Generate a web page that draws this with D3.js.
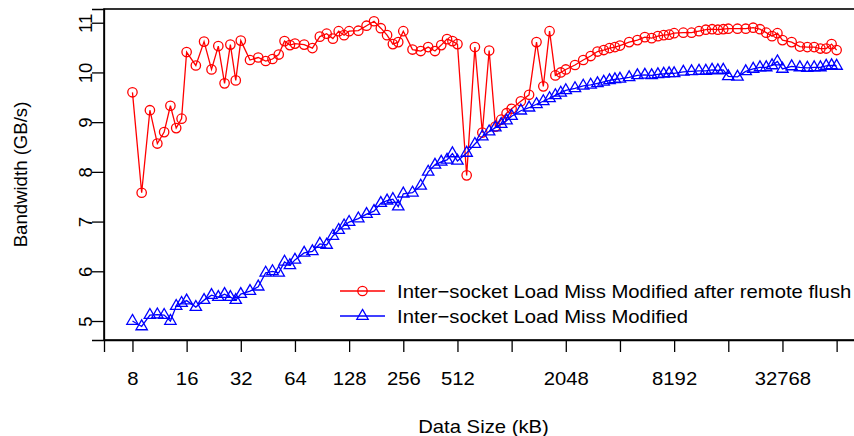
<!DOCTYPE html>
<html><head><meta charset="utf-8">
<script src="https://cdn.jsdelivr.net/npm/d3@7"></script>
<style>
body{margin:0;background:#fff}
svg{display:block}
text{font-family:"Liberation Sans",Arial,Helvetica,sans-serif;fill:#000}
</style>
</head><body>
<svg id="chart" width="854" height="436"></svg>
<script>
// Data sizes (kB)
const sizes = [8,9,10,11,12,13,14,15,
  16,18,20,22,24,26,28,30,
  32,36,40,44,48,52,56,60,
  64,72,80,88,96,104,112,120,
  128,144,160,176,192,208,224,240,
  256,288,320,352,384,416,448,480,
  512,576,640,704,768,832,896,960,
  1024,1152,1280,1408,1536,1664,1792,1920,
  2048,2304,2560,2816,3072,3328,3584,3840,
  4096,4608,5120,5632,6144,6656,7168,7680,
  8192,9216,10240,11264,12288,13312,14336,15360,
  16384,18432,20480,22528,24576,26624,28672,30720,
  32768,36864,40960,45056,49152,53248,57344,61440,
  65536];

// Inter-socket Load Miss Modified after remote flush (GB/s)
const flushBW = [9.60,7.58,9.24,8.57,8.80,9.33,8.88,9.07,
  10.41,10.14,10.62,10.06,10.53,9.78,10.56,9.84,
  10.64,10.25,10.30,10.23,10.27,10.36,10.63,10.55,
  10.58,10.56,10.49,10.72,10.78,10.68,10.83,10.75,
  10.83,10.84,10.94,11.03,10.89,10.75,10.57,10.61,
  10.83,10.46,10.43,10.51,10.43,10.55,10.67,10.63,
  10.57,7.93,10.51,8.79,10.44,8.91,9.05,9.18,
  9.27,9.42,9.55,10.61,9.72,10.83,9.94,10.00,
  10.06,10.15,10.25,10.33,10.42,10.45,10.49,10.51,
  10.54,10.61,10.65,10.71,10.69,10.73,10.75,10.76,
  10.79,10.80,10.80,10.83,10.86,10.87,10.86,10.87,
  10.88,10.88,10.88,10.90,10.87,10.80,10.73,10.79,
  10.65,10.61,10.52,10.51,10.51,10.48,10.48,10.57,
  10.45];

// Inter-socket Load Miss Modified (GB/s)
const modifiedBW = [5.00,4.89,5.12,5.13,5.12,5.00,5.30,5.36,
  5.41,5.28,5.42,5.52,5.48,5.54,5.48,5.42,
  5.54,5.60,5.69,5.97,6.00,5.97,6.19,6.12,
  6.23,6.37,6.40,6.55,6.53,6.71,6.83,6.92,
  6.99,7.06,7.15,7.21,7.37,7.42,7.45,7.30,
  7.56,7.58,7.72,8.00,8.14,8.20,8.24,8.37,
  8.22,8.38,8.56,8.71,8.81,8.89,8.96,9.03,
  9.12,9.23,9.29,9.36,9.42,9.48,9.54,9.59,
  9.64,9.68,9.73,9.75,9.78,9.81,9.84,9.86,
  9.87,9.90,9.94,9.95,9.94,9.96,9.97,9.98,
  9.98,10.01,10.02,10.03,10.03,10.05,10.04,10.05,
  9.92,9.91,10.02,10.07,10.10,10.10,10.14,10.22,
  10.07,10.12,10.10,10.09,10.10,10.10,10.13,10.14,
  10.13];

const xTicks = [8,16,32,64,128,256,512,1024,2048,4096,8192,16384,32768,65536];
const xTickLabels = ["8","16","32","64","128","256","512","","2048","","8192","","32768",""];
const yTicks = [5,6,7,8,9,10,11];
const seriesNames = ["Inter\u2212socket Load Miss Modified after remote flush",
                     "Inter\u2212socket Load Miss Modified"];
const seriesColors = ["#ff0000","#0000ff"];

const FS = 18.6;   // font size
const SX = 1.09;   // horizontal stretch of text in the reference

const svg = d3.select("#chart");
const box = {left:104, right:863, top:9, bottom:340};

const x = d3.scaleLog().base(2).domain([5.558, 91843]).range([box.left, box.right]);
const y = d3.scaleLinear().domain([4.618, 11.276]).range([box.bottom, box.top]);

// x axis
const xAxis = d3.axisBottom(x).tickValues(xTicks)
  .tickFormat((d,i)=>xTickLabels[i]).tickSize(12);
const gx = svg.append("g").attr("transform",`translate(0,${box.bottom})`).call(xAxis);
gx.select(".domain").attr("stroke","#000").attr("stroke-width",1.3);
gx.selectAll(".tick line").attr("stroke","#000").attr("stroke-width",1.3);
gx.selectAll(".tick text").attr("font-size",FS).attr("fill","#000")
  .attr("font-family","Liberation Sans, Arial, sans-serif")
  .attr("y",0).attr("dy",null)
  .attr("transform",`translate(0,45.3) scale(${SX},1)`);

// y axis
const yAxis = d3.axisLeft(y).tickValues(yTicks).tickFormat(d3.format("d")).tickSize(12);
const gy = svg.append("g").attr("transform",`translate(${box.left},0)`).call(yAxis);
gy.select(".domain").attr("stroke","#000").attr("stroke-width",1.3);
gy.selectAll(".tick line").attr("stroke","#000").attr("stroke-width",1.3);
gy.selectAll(".tick text").attr("font-size",FS).attr("fill","#000")
  .attr("font-family","Liberation Sans, Arial, sans-serif")
  .attr("text-anchor","middle").attr("dy",null).attr("x",0).attr("y",0)
  .attr("transform",`translate(-12.5,0) rotate(-90)`);

// box
svg.append("rect").attr("x",box.left).attr("y",box.top)
  .attr("width",box.right-box.left).attr("height",box.bottom-box.top)
  .attr("fill","none").attr("stroke","#000").attr("stroke-width",1.6);

// titles
svg.append("text").attr("transform",`translate(${(box.left+box.right)/2},432.5) scale(${SX},1)`)
  .attr("text-anchor","middle").attr("font-size",FS).text("Data Size (kB)");
svg.append("text").attr("transform",`translate(26.7,${(box.top+box.bottom)/2}) rotate(-90)`)
  .attr("text-anchor","middle").attr("font-size",FS).text("Bandwidth (GB/s)");

const line = d3.line().x((d,i)=>x(sizes[i])).y(d=>y(d));
const triSym = d3.symbol().type(d3.symbolTriangle).size(56);

function drawSeries(vals, color, kind){
  const g = svg.append("g");
  g.append("path").datum(vals).attr("d",line).attr("fill","none")
    .attr("stroke",color).attr("stroke-width",1.3);
  if(kind==="circle"){
    g.selectAll("circle").data(vals).join("circle")
      .attr("cx",(d,i)=>x(sizes[i])).attr("cy",d=>y(d)).attr("r",4.7)
      .attr("fill","none").attr("stroke",color).attr("stroke-width",1.3);
  } else {
    g.selectAll("path.m").data(vals).join("path").attr("class","m")
      .attr("d",triSym())
      .attr("transform",(d,i)=>`translate(${x(sizes[i])},${y(d)})`)
      .attr("fill","none").attr("stroke",color).attr("stroke-width",1.3);
  }
}
drawSeries(flushBW, seriesColors[0], "circle");
drawSeries(modifiedBW, seriesColors[1], "tri");

// legend
const legend = svg.append("g");
seriesNames.forEach((name,i)=>{
  const ly = 291 + i*25;
  legend.append("line").attr("x1",340).attr("x2",385).attr("y1",ly).attr("y2",ly)
    .attr("stroke",seriesColors[i]).attr("stroke-width",1.3);
  if(i===0){
    legend.append("circle").attr("cx",362.5).attr("cy",ly).attr("r",4.7)
      .attr("fill","none").attr("stroke",seriesColors[i]).attr("stroke-width",1.3);
  } else {
    legend.append("path").attr("d",triSym()).attr("transform",`translate(362.5,${ly})`)
      .attr("fill","none").attr("stroke",seriesColors[i]).attr("stroke-width",1.3);
  }
  legend.append("text").attr("transform",`translate(397,${ly}) scale(${SX},1)`)
    .attr("dy","0.35em").attr("font-size",FS).text(name);
});
</script>
</body></html>
